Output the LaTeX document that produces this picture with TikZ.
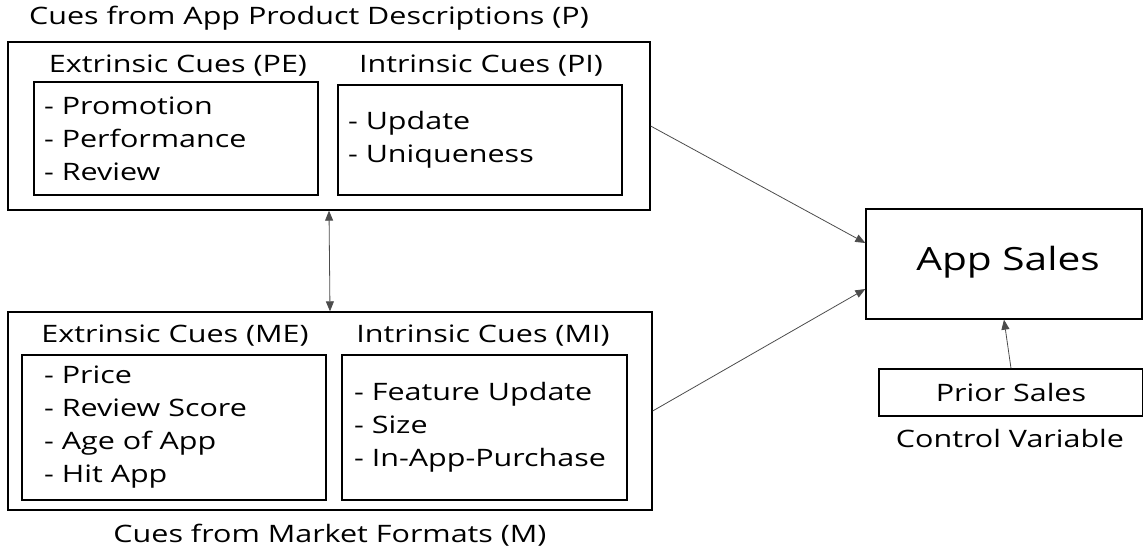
\documentclass[tikz,border=0pt]{standalone}
\usepackage{fontspec}
\setmainfont[FakeStretch=1.27]{Open Sans}
\usetikzlibrary{arrows.meta}
\tikzset{
  frame/.style={draw, line width=1.3pt, inner sep=0pt},
  cuebox/.style={draw, line width=1.3pt, inner xsep=10pt, inner ysep=0pt, align=left},
  heading/.style={font=\fontsize{24}{28}\selectfont},
  link/.style={draw=black!70, line width=0.8pt, -{Triangle[length=10pt,width=8pt]}, shorten >=0pt}
}
\begin{document}
\begin{tikzpicture}[x=1pt, y=-1pt, font=\fontsize{24}{33}\selectfont]
\useasboundingbox (0,0) rectangle (1143,550);
\node[heading] (ptitle) at (309,18) {Cues from App Product Descriptions (P)};
\node[frame, minimum width=642pt, minimum height=168pt] (pbox) at (329,126) {};
\node[heading] (pehead) at (178,66) {Extrinsic Cues (PE)};
\node[cuebox, text width=264pt, minimum height=113pt] (pe) at (176,138.5) {- Promotion\\- Performance\\- Review};
\node[heading] (pihead) at (481,66) {Intrinsic Cues (PI)};
\node[cuebox, text width=264pt, minimum height=110pt] (pi) at (480,140) {- Update\\- Uniqueness};
\node[frame, minimum width=644pt, minimum height=198pt] (mbox) at (330,411) {};
\node[heading] (mehead) at (175,336) {Extrinsic Cues (ME)};
\node[cuebox, inner xsep=22pt, text width=260pt, minimum height=145pt] (me) at (174,427.5) {- Price\\- Review Score\\- Age of App\\- Hit App};
\node[heading] (mihead) at (483,336) {Intrinsic Cues (MI)};
\node[cuebox, inner xsep=12pt, text width=261pt, minimum height=145pt] (mi) at (484.5,427.5) {- Feature Update\\- Size\\- In-App-Purchase};
\node[heading] (mtitle) at (330,535) {Cues from Market Formats (M)};
\node[frame, minimum width=276pt, minimum height=110pt] (sales) at (1004,264) {};
\node[font=\fontsize{32}{38}\selectfont] (salestext) at (1008,262) {App Sales};
\node[frame, minimum width=264pt, minimum height=47pt] (prior) at (1011,392.5) {Prior Sales};
\node[heading] (control) at (1010,438) {Control Variable};
\draw[link, {Triangle[length=10pt,width=8pt]}-{Triangle[length=10pt,width=8pt]}] (pbox.south) -- (mbox.north);
\draw[link] (pbox.east) -- ([yshift=21pt]sales.west);
\draw[link] (mbox.east) -- ([yshift=-25pt]sales.west);
\draw[link] (prior.north) -- (sales.south);
\end{tikzpicture}
\end{document}
